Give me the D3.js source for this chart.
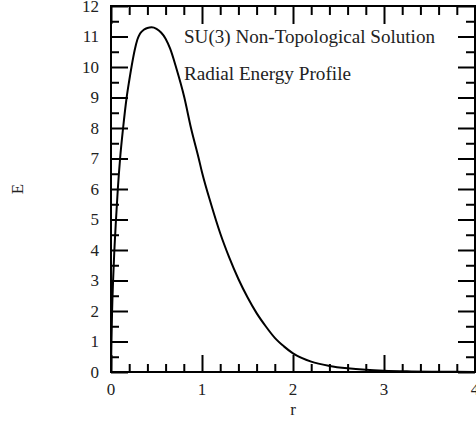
<!DOCTYPE html>
<html>
<head>
<meta charset="utf-8">
<script src="https://cdn.jsdelivr.net/npm/d3@7"></script>
<style>
  body { margin: 0; background: #fff; }
  text { font-family: 'Liberation Serif', 'DejaVu Serif', serif; fill: #222; }
</style>
</head>
<body>
<div id="chart"></div>
<script>
(function() {
const width = 476,
      height = 421

// radial energy profile
const rValues = [0, 0.005, 0.012, 0.023, 0.037, 0.055, 0.075, 0.1, 0.133, 0.172, 0.2, 0.228, 0.26, 0.29,
  0.32, 0.36, 0.4, 0.447, 0.5, 0.55, 0.6, 0.65, 0.714, 0.806, 0.879, 0.96, 1.0, 1.1, 1.2, 1.3,
  1.4, 1.5, 1.6, 1.7, 1.8, 1.9, 2.0, 2.2, 2.4, 2.6, 2.8, 3.0, 3.3, 3.6, 4.0]
const eValues = [0, 1.0, 2.0, 3.0, 4.0, 5.0, 6.0, 7.0, 8.0, 9.0, 9.55, 10.05, 10.55, 10.9,
  11.1, 11.22, 11.28, 11.3, 11.25, 11.13, 10.93, 10.6, 10.0, 9.0, 8.0, 7.05, 6.55, 5.5, 4.55, 3.75,
  3.05, 2.45, 1.93, 1.5, 1.12, 0.84, 0.61, 0.34, 0.2, 0.12, 0.07, 0.04, 0.02, 0.01, 0.0]

const xTicks = [0, 1, 2, 3, 4]
const yTicks = [0, 1, 2, 3, 4, 5, 6, 7, 8, 9, 10, 11, 12]
const notes = ['SU(3) Non-Topological Solution', 'Radial Energy Profile']

const margin = { top: 6, right: 1, bottom: 49, left: 111 }
const innerW = width - margin.left - margin.right,
      innerH = height - margin.top - margin.bottom

const data = rValues.map(function(r, i) { return { r: r, e: eValues[i] } })

const svg = d3.select('#chart')
  .append('svg')
  .attr('width', width)
  .attr('height', height)
  .append('g')
  .attr('transform', 'translate(' + margin.left + ',' + margin.top + ')')

const x = d3.scaleLinear().domain([0, 4]).range([0, innerW])
const y = d3.scaleLinear().domain([0, 12]).range([innerH, 0])

const minorX = d3.range(0, 4.001, 0.2).filter(function(v) { return Math.abs(v - Math.round(v)) > 1e-6 })
const minorY = d3.range(0.5, 12, 1)

function styleAxis(g) {
  g.select('.domain').remove()
  g.selectAll('line').attr('stroke', '#000').attr('stroke-width', 2)
  g.selectAll('text').remove()
}

// bottom and top
svg.append('g').attr('transform', 'translate(0,' + innerH + ')')
  .call(d3.axisBottom(x).tickValues(xTicks).tickSizeInner(-17).tickSizeOuter(0)).call(styleAxis)
svg.append('g').attr('transform', 'translate(0,' + innerH + ')')
  .call(d3.axisBottom(x).tickValues(minorX).tickSizeInner(-8).tickSizeOuter(0)).call(styleAxis)
svg.append('g')
  .call(d3.axisTop(x).tickValues(xTicks).tickSizeInner(-18).tickSizeOuter(0)).call(styleAxis)
svg.append('g')
  .call(d3.axisTop(x).tickValues(minorX).tickSizeInner(-9).tickSizeOuter(0)).call(styleAxis)

// left and right
svg.append('g')
  .call(d3.axisLeft(y).tickValues(yTicks).tickSizeInner(-17).tickSizeOuter(0)).call(styleAxis)
svg.append('g')
  .call(d3.axisLeft(y).tickValues(minorY).tickSizeInner(-8).tickSizeOuter(0)).call(styleAxis)
svg.append('g').attr('transform', 'translate(' + innerW + ',0)')
  .call(d3.axisRight(y).tickValues(yTicks).tickSizeInner(-17).tickSizeOuter(0)).call(styleAxis)
svg.append('g').attr('transform', 'translate(' + innerW + ',0)')
  .call(d3.axisRight(y).tickValues(minorY).tickSizeInner(-9).tickSizeOuter(0)).call(styleAxis)

// frame
svg.append('rect')
  .attr('width', innerW)
  .attr('height', innerH)
  .attr('fill', 'none')
  .attr('stroke', '#000')
  .attr('stroke-width', 2)

// tick labels
svg.selectAll('.xlab')
  .data(xTicks)
  .enter().append('text')
  .attr('class', 'xlab')
  .attr('x', function(d) { return x(d) })
  .attr('y', innerH + 23)
  .attr('text-anchor', 'middle')
  .style('font-size', '17px')
  .text(function(d) { return d })

svg.selectAll('.ylab')
  .data(yTicks)
  .enter().append('text')
  .attr('class', 'ylab')
  .attr('x', -12)
  .attr('y', function(d) { return y(d) })
  .attr('dy', '0.34em')
  .attr('text-anchor', 'end')
  .style('font-size', '17px')
  .text(function(d) { return d })

// axis titles
svg.append('text')
  .attr('x', innerW / 2)
  .attr('y', innerH + 43)
  .attr('text-anchor', 'middle')
  .style('font-size', '17px')
  .text('r')

svg.append('text')
  .attr('transform', 'translate(' + (23 - margin.left) + ',' + (innerH / 2) + ') rotate(-90)')
  .attr('text-anchor', 'middle')
  .style('font-size', '17px')
  .text('E')

// notes (Palatino-like width, stretched from a Times-like face)
svg.selectAll('.note')
  .data(notes)
  .enter().append('text')
  .attr('class', 'note')
  .attr('x', 73)
  .attr('y', function(d, i) { return i === 0 ? 37 : 74 })
  .attr('textLength', function(d, i) { return i === 0 ? 251 : 167 })
  .attr('lengthAdjust', 'spacingAndGlyphs')
  .style('font-size', '18px')
  .text(function(d) { return d })

// curve
const line = d3.line()
  .x(function(d) { return x(d.r) })
  .y(function(d) { return y(d.e) })
  .curve(d3.curveMonotoneX)

svg.append('path')
  .datum(data)
  .attr('fill', 'none')
  .attr('stroke', '#000')
  .attr('stroke-width', 2)
  .attr('d', line)

})()
</script>
</body>
</html>
